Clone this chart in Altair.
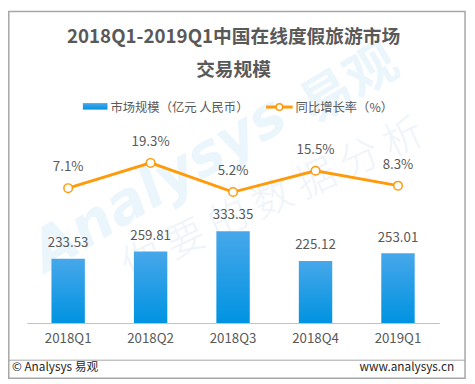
import altair as alt
import pandas as pd

quarters = ["2018Q1", "2018Q2", "2018Q3", "2018Q4", "2019Q1"]
market_size = [233.53, 259.81, 333.35, 225.12, 253.01]
growth_rate = [7.1, 19.3, 5.2, 15.5, 8.3]

title_lines = ["2018Q1-2019Q1中国在线度假旅游市场", "交易规模"]
legend_bar = "市场规模（亿元 人民币）"
legend_line = "同比增长率（%）"
footer_left = "© Analysys 易观"
footer_right = "www.analysys.cn"

df = pd.DataFrame({
    "quarter": quarters,
    "size": market_size,
    "growth": growth_rate,
})
df["size_label"] = [f"{v:.2f}" for v in market_size]
df["growth_label"] = [f"{v}%" for v in growth_rate]

FONT = "Microsoft YaHei, Noto Sans CJK SC, Noto Sans"
GRAY = "#595959"
ORANGE = "#FF9A0A"
one = pd.DataFrame({"k": [0]})

grad = alt.Gradient(
    gradient="linear",
    stops=[alt.GradientStop(color="#47A7EA", offset=0),
           alt.GradientStop(color="#0093E1", offset=1)],
    x1=1, x2=1, y1=0, y2=1,
)

x = alt.X(
    "quarter:N", sort=quarters,
    scale=alt.Scale(paddingInner=0.595, paddingOuter=0.3),
    axis=alt.Axis(title=None, labelAngle=0, ticks=False, grid=False,
                  domainColor="#BFBFBF", domainWidth=1,
                  labelColor=GRAY, labelFontSize=13.5, labelFont=FONT,
                  labelPadding=9),
)
y_size = alt.Y("size:Q", scale=alt.Scale(domain=[0, 715], nice=False, zero=True), axis=None)
y_growth = alt.Y("growth:Q", scale=alt.Scale(domain=[-58.1, 37.1], nice=False, zero=False), axis=None)

base = alt.Chart(df)

# watermark
wm1 = alt.Chart(one).mark_text(angle=329, fontSize=58, fontWeight="bold", fontStyle="italic",
                               font="DejaVu Sans", color="#EAF5FC").encode(
    x=alt.value(135), y=alt.value(60), text=alt.value("Analysys"))
wm2 = alt.Chart(one).mark_text(angle=329, fontSize=52, fontWeight="bold", font=FONT,
                               color="#EAF5FC").encode(
    x=alt.value(328), y=alt.value(-42), text=alt.value("易观"))
wm3 = alt.Chart(one).mark_text(angle=335, fontSize=40, fontWeight=300, font=FONT,
                               color="#EEF4F9").encode(
    x=alt.value(250), y=alt.value(75), text=alt.value("你 要 的 数 据 分 析"))

bars = base.mark_bar(color=grad).encode(x=x, y=y_size)
bar_text = base.mark_text(dy=-16, fontSize=13.5, font=FONT, color=GRAY).encode(
    x=x, y=y_size, text="size_label:N")

line = base.mark_line(color=ORANGE, strokeWidth=3).encode(x=x, y=y_growth)
pts = base.mark_point(shape="circle", size=75, filled=True, fill="white", stroke=ORANGE,
                      strokeWidth=1.5, opacity=1).encode(x=x, y=y_growth)
line_text = base.mark_text(dy=-21, fontSize=13.5, font=FONT, color=GRAY).encode(
    x=x, y=y_growth, text="growth_label:N")

# title
t1 = alt.Chart(one).mark_text(fontSize=19, fontWeight="bold", font=FONT, color=GRAY).encode(
    x=alt.value(210), y=alt.value(-90), text=alt.value(title_lines[0]))
t2 = alt.Chart(one).mark_text(fontSize=19, fontWeight="bold", font=FONT, color=GRAY).encode(
    x=alt.value(210), y=alt.value(-57), text=alt.value(title_lines[1]))

# legend
lg_rect = alt.Chart(one).mark_rect(color=grad).encode(
    x=alt.value(57), x2=alt.value(82), y=alt.value(-23.3), y2=alt.value(-16.7))
lg_t1 = alt.Chart(one).mark_text(align="left", fontSize=12.5, font=FONT, color=GRAY).encode(
    x=alt.value(85), y=alt.value(-18.5), text=alt.value(legend_bar))
lg_line = alt.Chart(one).mark_rule(color=ORANGE, strokeWidth=3).encode(
    x=alt.value(243), x2=alt.value(270), y=alt.value(-19.3))
lg_pt = alt.Chart(one).mark_point(shape="circle", size=45, filled=True, fill="white",
                                  stroke=ORANGE, strokeWidth=1.5, opacity=1).encode(
    x=alt.value(256.5), y=alt.value(-19.3))
lg_t2 = alt.Chart(one).mark_text(align="left", fontSize=12.5, font=FONT, color=GRAY).encode(
    x=alt.value(273), y=alt.value(-18.5), text=alt.value(legend_line))

# footer and frame
sep = alt.Chart(one).mark_rule(color="#A6A6A6", strokeWidth=1).encode(
    x=alt.value(-19), x2=alt.value(445), y=alt.value(237.7))
f1 = alt.Chart(one).mark_text(align="left", fontSize=12, font=FONT, color="#262626").encode(
    x=alt.value(-15), y=alt.value(245), text=alt.value(footer_left))
f2 = alt.Chart(one).mark_text(align="right", fontSize=12, font=FONT, color="#262626").encode(
    x=alt.value(434), y=alt.value(245), text=alt.value(footer_right))
frame = alt.Chart(one).mark_rect(fillOpacity=0, stroke="#A6A6A6", strokeWidth=1.5).encode(
    x=alt.value(-18.2), x2=alt.value(445), y=alt.value(-116.2), y2=alt.value(256))

chart = alt.layer(
    wm1, wm2, wm3,
    bars, bar_text, line, pts, line_text,
    t1, t2, lg_rect, lg_t1, lg_line, lg_pt, lg_t2,
    sep, f1, f2, frame,
).resolve_scale(y="independent").properties(
    width=419, height=200,
    padding={"left": 19, "top": 117, "right": 28, "bottom": 58},
    autosize=alt.AutoSizeParams(type="none"),
    background="white",
).configure_view(stroke=None)

chart.save("out.html", embed_options={"renderer": "svg", "actions": False})
